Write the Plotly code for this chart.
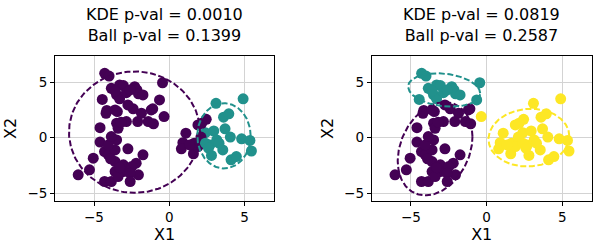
import numpy as np
import plotly.graph_objects as go

# ---- data ----
x_vals = [
    # upper-left group
    -4.29, -4.0, -0.45, -3.85, -3.3, -3.05, -2.3, -2.15, -2.05, -3.5, -3.3, -4.45, -2.85, -1.75, -0.65, -3.6, -2.6,
    # lower-left group
    -4.15, -3.45, -2.4, -1.1, -1.4, -1.05, -2.1, -3.5, -3.4, -4.6, -2.85, -4.6, -3.5, -2.75, -4.3, -4.05, -3.6,
    -5.05, -3.6, -1.75, -2.2, -3.05, -6.05, -5.3, -3.6, -3.05, -2.5, -2.05, -4.3, -3.85, -3.4, -2.6, -2.6,
    -4.05, -3.85, -4.2, -3.6, -2.75, -1.2, -1.85, -3.2, -3.9, -3.3,
    # right group
    -0.35, 3.1, 4.9, 2.45, 3.6, 3.95, 1.9, 1.1, 2.4, 2.95, 3.7, 4.05, 4.8, 5.35, 5.45, 0.9, 1.65, 0.8,
    1.6, 2.8, 3.55, 4.1, 2.7, 3.15, 2.1, 1.9, 2.4, 2.6, 3.3, 4.45, 2.15, 1.35,
]
y_vals = [
    5.8, 5.55, 4.95, 4.45, 4.75, 4.7, 4.6, 4.3, 3.95, 3.85, 3.5, 3.45, 4.05, 3.85, 3.4, 4.2, 4.3,
    2.45, 2.35, 2.6, 2.6, 1.45, 1.25, 1.45, 1.3, 0.85, 0.9, 1.45, -0.4, -0.2, -1.0, -1.25, -1.55, -1.1,
    -1.85, -2.15, -1.55, -2.3, -2.45, -3.35, -2.9, -3.05, -3.05, -2.6, -3.35, -3.95, -3.95, -3.5, -3.2, -3.95,
    -0.65, 0.1, 2.2, 2.5, 2.95, 2.5, 2.2, 1.4, -1.9, -2.7,
    1.9, 3.1, 3.5, 1.65, 1.85, 2.15, 1.15, 0.4, 0.45, 0.6, 0.8, 0.05, -0.1, -0.25, -1.2, -0.45, -0.5, -1.0,
    -1.45, -1.6, -1.1, -2.0, -0.65, -0.2, 0.05, -0.8, -0.5, -0.95, -0.5, -1.7, 1.3, -0.65,
]
labels_left = (
    [0] * 17 + [0] * 43 +
    [0, 1, 1, 0, 1, 1, 0, 0, 1, 1, 1, 1, 1, 1, 1, 0, 0, 0,
     0, 1, 1, 1, 1, 1, 0, 0, 1, 1, 1, 1, 0, 0]
)
labels_right = [1] * 17 + [0] * 43 + [2] * 32

titles = ["KDE p-val = 0.0010<br>Ball p-val = 0.1399",
          "KDE p-val = 0.0819<br>Ball p-val = 0.2587"]

# ellipse parameters: centre, half-extent in x and y, correlation
left_ell_cx = [-2.31, 3.63]
left_ell_cy = [0.5, 0.17]
left_ell_sx = [4.35, 1.77]
left_ell_sy = [5.47, 2.94]
left_ell_rho = [0.0, 0.0]
left_ell_lab = [0, 1]

right_ell_cx = [-3.4, -2.8, 2.8]
right_ell_cy = [-1.0, 4.3, 0.0]
right_ell_sx = [2.47, 2.38, 2.67]
right_ell_sy = [4.2, 1.5, 2.6]
right_ell_rho = [0.26, -0.2, 0.05]
right_ell_lab = [0, 1, 2]

x_ticks = [-5, 0, 5]
y_ticks = [-5, 0, 5]

# ---- style ----
COLORS = ["#440154", "#21918c", "#fde725"]
W, H = 598, 248
FONT = "DejaVu Sans"


def ellipse_path(cx, cy, sx, sy, rho, n=200):
    m = np.array([[sx * sx, rho * sx * sy], [rho * sx * sy, sy * sy]])
    l = np.linalg.cholesky(m)
    t = np.linspace(0, 2 * np.pi, n)
    pts = l @ np.vstack([np.cos(t), np.sin(t)])
    return pts[0] + cx, pts[1] + cy


fig = go.Figure()

panels = [
    ("x", "y", labels_left, (left_ell_cx, left_ell_cy, left_ell_sx, left_ell_sy, left_ell_rho, left_ell_lab)),
    ("x2", "y2", labels_right, (right_ell_cx, right_ell_cy, right_ell_sx, right_ell_sy, right_ell_rho, right_ell_lab)),
]

for xa, ya, labs, ell in panels:
    fig.add_trace(go.Scatter(
        x=x_vals, y=y_vals, mode="markers", xaxis=xa, yaxis=ya,
        marker=dict(size=11, color=[COLORS[k] for k in labs], line=dict(width=0)),
        showlegend=False, hoverinfo="skip"))
    for cx, cy, sx, sy, rho, lab in zip(*ell):
        ex, ey = ellipse_path(cx, cy, sx, sy, rho)
        fig.add_trace(go.Scatter(
            x=ex, y=ey, mode="lines", xaxis=xa, yaxis=ya,
            line=dict(color=COLORS[lab], width=2, dash="6px,2.6px"),
            showlegend=False, hoverinfo="skip"))

x_dom = [[55 / W, 274 / W], [371.7 / W, 591.7 / W]]
y_dom = [(H - 200.7) / H, (H - 56) / H]

ax_common = dict(
    showline=True, mirror=True, linecolor="black", linewidth=1,
    ticks="outside", ticklen=4, tickwidth=1, tickcolor="black",
    showgrid=True, gridcolor="#d3d3d3", gridwidth=1, zeroline=False,
    automargin=False,
    tickfont=dict(family=FONT, size=13.5, color="black"),
)

layout = dict(
    width=W, height=H, margin=dict(l=0, r=0, t=0, b=0),
    paper_bgcolor="white", plot_bgcolor="white",
    font=dict(family=FONT, color="black"),
)
for i, (xa, ya) in enumerate([("xaxis", "yaxis"), ("xaxis2", "yaxis2")]):
    layout[xa] = dict(ax_common, domain=x_dom[i], range=[-7.59, 6.95],
                      tickvals=x_ticks, ticktext=["\u22125", "0", "5"],
                      anchor="y" if i == 0 else "y2",
                      title=dict(text="X1", font=dict(family=FONT, size=16), standoff=4))
    layout[ya] = dict(ax_common, domain=y_dom, range=[-5.68, 7.36],
                      tickvals=y_ticks, ticktext=["\u22125", "0", "5"],
                      anchor="x" if i == 0 else "x2",
                      title=dict(text="X2", font=dict(family=FONT, size=16), standoff=6))

fig.update_layout(**layout)

for i, t in enumerate(titles):
    fig.add_annotation(
        text=t, xref="paper", yref="paper",
        x=(x_dom[i][0] + x_dom[i][1]) / 2, y=(H - 47) / H,
        xanchor="center", yanchor="bottom", showarrow=False,
        font=dict(family=FONT, size=16, color="black"), align="center")

fig.write_html("out.html", config={"displayModeBar": False},
               post_script="document.body.style.margin='0px';")
